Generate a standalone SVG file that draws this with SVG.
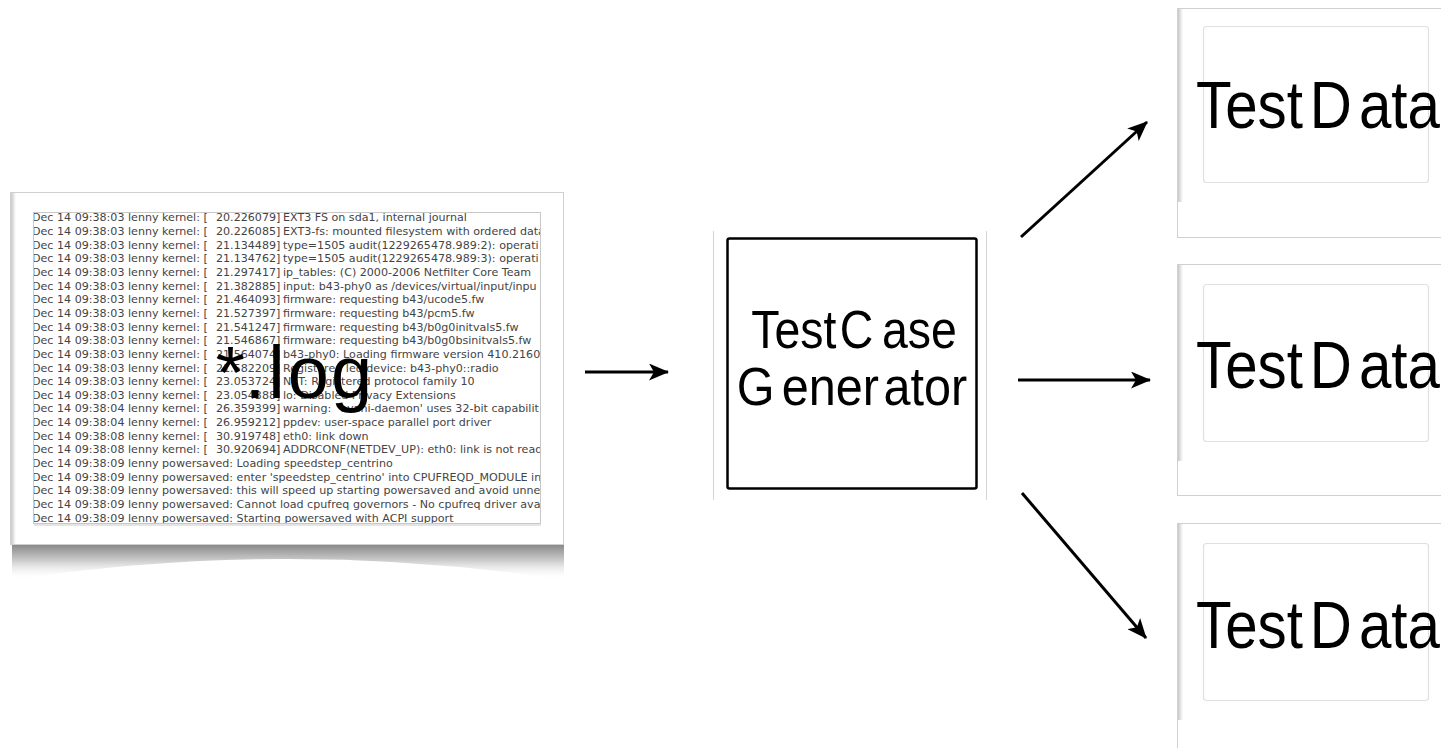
<svg xmlns="http://www.w3.org/2000/svg" width="1441" height="748" viewBox="0 0 1441 748">
<defs>
<style>
.lg{font-family:"DejaVu Sans",sans-serif;font-size:11.1px;fill:#444}
.big{font-family:"Liberation Sans",Arial,sans-serif;fill:#000}
.conn{stroke:#000;stroke-width:3;fill:none}
.frame{fill:#fff;stroke:#d0d0d0;stroke-width:1}
.inner{fill:#fff;stroke:#e0e0e0;stroke-width:1.2}
</style>
<marker id="ah" markerUnits="userSpaceOnUse" markerWidth="20" markerHeight="17" refX="19" refY="8.5" orient="auto">
<path d="M0,0 L20,8.5 L0,17 L5,8.5 Z" fill="#000"/>
</marker>
<linearGradient id="shv" x1="0" y1="0" x2="0" y2="1">
<stop offset="0" stop-color="#8a8a8a"/>
<stop offset="0.45" stop-color="#cdcdcd"/>
<stop offset="1" stop-color="#ffffff" stop-opacity="0"/>
</linearGradient>
<linearGradient id="edge" x1="0" y1="0" x2="1" y2="0">
<stop offset="0" stop-color="#c8c8c8"/>
<stop offset="1" stop-color="#ffffff"/>
</linearGradient>
<clipPath id="logclip"><rect x="34" y="213" width="506" height="310"/></clipPath>
<clipPath id="pageclip"><rect x="0" y="0" width="1441" height="748"/></clipPath>
</defs>
<rect width="1441" height="748" fill="#fff"/>

<g id="log-file">
<path d="M12,545 L564,545 L564,580 Q288,538 12,580 Z" fill="url(#shv)"/>
<rect class="frame" x="10.5" y="192.5" width="553" height="352"/>
<rect x="11" y="193" width="5" height="351" fill="url(#edge)"/>
<rect x="33.5" y="212.5" width="507" height="311" fill="#fff" stroke="#c8c8c8" stroke-width="1"/>
<line x1="34" y1="525" x2="541" y2="525" stroke="#e4e4e4" stroke-width="2"/>
<g clip-path="url(#logclip)" class="lg">
<text y="221.3"><tspan x="32">Dec 14 09:38:03 lenny kernel: [</tspan><tspan x="216">20.226079]</tspan><tspan x="283">EXT3 FS on sda1, internal journal</tspan></text>
<text y="235.0"><tspan x="32">Dec 14 09:38:03 lenny kernel: [</tspan><tspan x="216">20.226085]</tspan><tspan x="283">EXT3-fs: mounted filesystem with ordered data</tspan></text>
<text y="248.6"><tspan x="32">Dec 14 09:38:03 lenny kernel: [</tspan><tspan x="216">21.134489]</tspan><tspan x="283">type=1505 audit(1229265478.989:2): operati</tspan></text>
<text y="262.3"><tspan x="32">Dec 14 09:38:03 lenny kernel: [</tspan><tspan x="216">21.134762]</tspan><tspan x="283">type=1505 audit(1229265478.989:3): operati</tspan></text>
<text y="275.9"><tspan x="32">Dec 14 09:38:03 lenny kernel: [</tspan><tspan x="216">21.297417]</tspan><tspan x="283">ip_tables: (C) 2000-2006 Netfilter Core Team</tspan></text>
<text y="289.6"><tspan x="32">Dec 14 09:38:03 lenny kernel: [</tspan><tspan x="216">21.382885]</tspan><tspan x="283">input: b43-phy0 as /devices/virtual/input/inpu</tspan></text>
<text y="303.2"><tspan x="32">Dec 14 09:38:03 lenny kernel: [</tspan><tspan x="216">21.464093]</tspan><tspan x="283">firmware: requesting b43/ucode5.fw</tspan></text>
<text y="316.9"><tspan x="32">Dec 14 09:38:03 lenny kernel: [</tspan><tspan x="216">21.527397]</tspan><tspan x="283">firmware: requesting b43/pcm5.fw</tspan></text>
<text y="330.5"><tspan x="32">Dec 14 09:38:03 lenny kernel: [</tspan><tspan x="216">21.541247]</tspan><tspan x="283">firmware: requesting b43/b0g0initvals5.fw</tspan></text>
<text y="344.2"><tspan x="32">Dec 14 09:38:03 lenny kernel: [</tspan><tspan x="216">21.546867]</tspan><tspan x="283">firmware: requesting b43/b0g0bsinitvals5.fw</tspan></text>
<text y="357.8"><tspan x="32">Dec 14 09:38:03 lenny kernel: [</tspan><tspan x="216">21.564074]</tspan><tspan x="283">b43-phy0: Loading firmware version 410.2160</tspan></text>
<text y="371.5"><tspan x="32">Dec 14 09:38:03 lenny kernel: [</tspan><tspan x="216">21.582209]</tspan><tspan x="283">Registered led device: b43-phy0::radio</tspan></text>
<text y="385.1"><tspan x="32">Dec 14 09:38:03 lenny kernel: [</tspan><tspan x="216">23.053724]</tspan><tspan x="283">NET: Registered protocol family 10</tspan></text>
<text y="398.8"><tspan x="32">Dec 14 09:38:03 lenny kernel: [</tspan><tspan x="216">23.054388]</tspan><tspan x="283">lo: Disabled Privacy Extensions</tspan></text>
<text y="412.4"><tspan x="32">Dec 14 09:38:04 lenny kernel: [</tspan><tspan x="216">26.359399]</tspan><tspan x="283">warning: `avahi-daemon' uses 32-bit capabilit</tspan></text>
<text y="426.1"><tspan x="32">Dec 14 09:38:04 lenny kernel: [</tspan><tspan x="216">26.959212]</tspan><tspan x="283">ppdev: user-space parallel port driver</tspan></text>
<text y="439.7"><tspan x="32">Dec 14 09:38:08 lenny kernel: [</tspan><tspan x="216">30.919748]</tspan><tspan x="283">eth0: link down</tspan></text>
<text y="453.4"><tspan x="32">Dec 14 09:38:08 lenny kernel: [</tspan><tspan x="216">30.920694]</tspan><tspan x="283">ADDRCONF(NETDEV_UP): eth0: link is not ready</tspan></text>
<text x="32" y="467.0">Dec 14 09:38:09 lenny powersaved: Loading speedstep_centrino</text>
<text x="32" y="480.7">Dec 14 09:38:09 lenny powersaved: enter 'speedstep_centrino' into CPUFREQD_MODULE in /</text>
<text x="32" y="494.3">Dec 14 09:38:09 lenny powersaved: this will speed up starting powersaved and avoid unnec</text>
<text x="32" y="508.0">Dec 14 09:38:09 lenny powersaved: Cannot load cpufreq governors - No cpufreq driver avai</text>
<text x="32" y="521.6">Dec 14 09:38:09 lenny powersaved: Starting powersaved with ACPI support</text>
</g>
<text class="big" x="216" y="398" font-size="74">*.<tspan dx="3">l</tspan><tspan dx="3">o</tspan><tspan dx="2">g</tspan></text>
</g>

<g id="testcase-generator">
<line x1="713.5" y1="231" x2="713.5" y2="500" stroke="#d4d4d4" stroke-width="1"/>
<line x1="986.5" y1="231" x2="986.5" y2="500" stroke="#d4d4d4" stroke-width="1"/>
<rect x="727.5" y="238.5" width="249" height="250" rx="2" fill="#fff" stroke="#000" stroke-width="2.5"/>
<text class="big" font-size="54" text-anchor="middle" transform="translate(854,348) scale(0.86,1)">Test<tspan dx="4">C</tspan><tspan dx="10">ase</tspan></text>
<text class="big" font-size="54" text-anchor="middle" transform="translate(852,405) scale(0.9,1)">G<tspan dx="8">ener</tspan><tspan dx="5">ator</tspan></text>
</g>

<g id="testdata-1" clip-path="url(#pageclip)">
<g transform="translate(0,8)">
<path d="M1179,194 L1445,194 L1445,225 Q1312,189 1179,225 Z" fill="url(#shv)"/>
<rect class="frame" x="1177.5" y="0.5" width="280" height="229"/>
<rect x="1178" y="1" width="5" height="193" fill="url(#edge)"/>
<rect class="inner" x="1203.5" y="18.5" width="225" height="156" rx="3"/>
<text class="big" font-size="67" transform="translate(1196,120) scale(0.87,1)">Test<tspan dx="8">D</tspan><tspan dx="8">ata</tspan></text>
</g>
</g>

<g id="testdata-2" clip-path="url(#pageclip)">
<g transform="translate(0,264)">
<path d="M1179,197 L1445,197 L1445,228 Q1312,192 1179,228 Z" fill="url(#shv)"/>
<rect class="frame" x="1177.5" y="0.5" width="280" height="231"/>
<rect x="1178" y="1" width="5" height="196" fill="url(#edge)"/>
<rect class="inner" x="1203.5" y="20.5" width="225" height="157" rx="3"/>
<text class="big" font-size="67" transform="translate(1196,124) scale(0.87,1)">Test<tspan dx="8">D</tspan><tspan dx="8">ata</tspan></text>
</g>
</g>

<g id="testdata-3" clip-path="url(#pageclip)">
<g transform="translate(0,523)">
<path d="M1179,197 L1445,197 L1445,228 Q1312,192 1179,228 Z" fill="url(#shv)"/>
<rect class="frame" x="1177.5" y="0.5" width="280" height="260"/>
<rect x="1178" y="1" width="5" height="196" fill="url(#edge)"/>
<rect class="inner" x="1203.5" y="20.5" width="225" height="157" rx="3"/>
<text class="big" font-size="67" transform="translate(1196,125) scale(0.87,1)">Test<tspan dx="8">D</tspan><tspan dx="8">ata</tspan></text>
</g>
</g>

<g id="connectors">
<line class="conn" x1="585" y1="372" x2="668" y2="372" marker-end="url(#ah)"/>
<line class="conn" x1="1018" y1="380" x2="1150" y2="380" marker-end="url(#ah)"/>
<line class="conn" x1="1021" y1="237" x2="1147" y2="122" marker-end="url(#ah)"/>
<line class="conn" x1="1022" y1="493" x2="1146" y2="638" marker-end="url(#ah)"/>
</g>
</svg>
